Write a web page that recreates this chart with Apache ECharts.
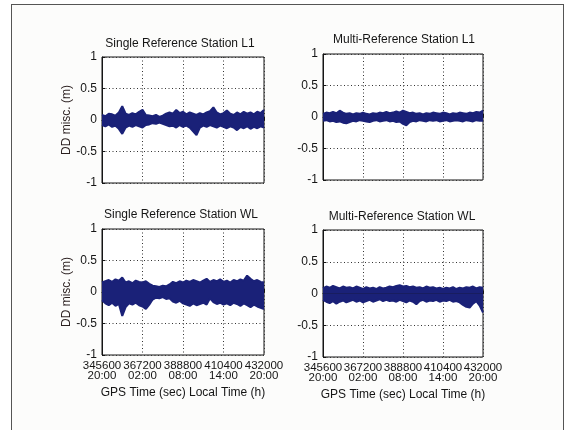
<!DOCTYPE html>
<html>
<head>
<meta charset="utf-8">
<script src="https://cdn.jsdelivr.net/npm/echarts@6/dist/echarts.min.js"></script>
<style>
  html, body { margin: 0; padding: 0; background: #fff; }
  #wrap { position: relative; width: 570px; height: 430px; overflow: hidden; background: #fff; }
  #frame {
    position: absolute; left: 11px; top: 4px; width: 551px; height: 440px;
    border: 1.5px solid #555; border-bottom: none; background: #fcfcfb;
  }
  #chart { position: absolute; left: 0; top: 0; width: 570px; height: 430px; }
</style>
</head>
<body>
<div id="wrap">
  <div id="frame"></div>
  <div id="chart"></div>
</div>
<script>
// sample epochs (GPS seconds of week)
const sampleTimes = [
  345600, 347400, 349200, 351000, 352800, 354600, 356400, 358200, 360000, 361800,
  363600, 365400, 367200, 369000, 370800, 372600, 374400, 376200, 378000, 379800,
  381600, 383400, 385200, 387000, 388800, 390600, 392400, 394200, 396000, 397800,
  399600, 401400, 403200, 405000, 406800, 408600, 410400, 412200, 414000, 415800,
  417600, 419400, 421200, 423000, 424800, 426600, 428400, 430200, 432000
]

const tickSecs = [345600, 367200, 388800, 410400, 432000]
const tickHours = ['20:00', '02:00', '08:00', '14:00', '20:00']

const panelTitles = [
  'Single Reference Station L1',
  'Multi-Reference Station L1',
  'Single Reference Station WL',
  'Multi-Reference Station WL',
]

// upper / lower envelope of the residual band (m)
const singleL1Upper = [
  0.08, 0.06, 0.1, 0.09, 0.07, 0.12, 0.22, 0.1, 0.08, 0.11,
  0.09, 0.13, 0.16, 0.08, 0.07, 0.06, 0.08, 0.05, 0.07, 0.1,
  0.12, 0.1, 0.16, 0.11, 0.13, 0.09, 0.12, 0.1, 0.08, 0.11,
  0.09, 0.12, 0.14, 0.2, 0.12, 0.09, 0.11, 0.15, 0.1, 0.08,
  0.12, 0.09, 0.13, 0.1, 0.12, 0.09, 0.13, 0.11, 0.16
]
const singleL1Lower = [
  -0.08, -0.1, -0.07, -0.11, -0.09, -0.14, -0.22, -0.12, -0.09, -0.11,
  -0.08, -0.1, -0.12, -0.08, -0.07, -0.05, -0.06, -0.04, -0.06, -0.08,
  -0.1, -0.09, -0.12, -0.08, -0.11, -0.09, -0.12, -0.18, -0.24, -0.12,
  -0.09, -0.11, -0.08, -0.1, -0.12, -0.09, -0.11, -0.13, -0.1, -0.12,
  -0.16, -0.11, -0.13, -0.1, -0.14, -0.11, -0.13, -0.1, -0.12
]
const multiL1Upper = [
  0.05, 0.07, 0.06, 0.08, 0.06, 0.1, 0.07, 0.05, 0.06, 0.04,
  0.06, 0.05, 0.07, 0.05, 0.04, 0.06, 0.05, 0.07, 0.06, 0.08,
  0.06, 0.07, 0.09, 0.07, 0.1, 0.08, 0.06, 0.07, 0.05, 0.06,
  0.04, 0.06, 0.05, 0.07, 0.06, 0.05, 0.07, 0.06, 0.04, 0.06,
  0.05, 0.07, 0.06, 0.05, 0.07, 0.06, 0.08, 0.07, 0.1
]
const multiL1Lower = [
  -0.06, -0.05, -0.07, -0.06, -0.08, -0.07, -0.09, -0.1, -0.08, -0.06,
  -0.07, -0.05, -0.06, -0.07, -0.08, -0.06, -0.05, -0.07, -0.06, -0.05,
  -0.07, -0.06, -0.08, -0.07, -0.11, -0.13, -0.08, -0.06, -0.07, -0.05,
  -0.06, -0.07, -0.05, -0.06, -0.05, -0.07, -0.06, -0.05, -0.07, -0.06,
  -0.05, -0.06, -0.07, -0.05, -0.06, -0.07, -0.05, -0.06, -0.06
]
const singleWLUpper = [
  0.15, 0.17, 0.19, 0.16, 0.2, 0.18, 0.23, 0.15, 0.17, 0.14,
  0.18, 0.16, 0.15, 0.17, 0.13, 0.1, 0.09, 0.08, 0.1, 0.09,
  0.12, 0.16, 0.14, 0.17, 0.15, 0.18, 0.16, 0.19, 0.17, 0.15,
  0.18, 0.21, 0.16, 0.19, 0.17, 0.2, 0.16, 0.18, 0.15, 0.19,
  0.17, 0.2, 0.18, 0.26, 0.21, 0.17, 0.19, 0.16, 0.15
]
const singleWLLower = [
  -0.13, -0.18, -0.21, -0.17, -0.22, -0.19, -0.38, -0.24, -0.18, -0.2,
  -0.17, -0.21, -0.23, -0.27, -0.2, -0.12, -0.09, -0.1, -0.08, -0.11,
  -0.1, -0.15, -0.17, -0.14, -0.18, -0.2, -0.22, -0.18, -0.21, -0.19,
  -0.17, -0.2, -0.1, -0.16, -0.19, -0.17, -0.2, -0.18, -0.21, -0.17,
  -0.19, -0.22, -0.18, -0.21, -0.24, -0.2, -0.23, -0.25, -0.27
]
const multiWLUpper = [
  0.08, 0.11, 0.09, 0.12, 0.1, 0.08, 0.11, 0.09, 0.1, 0.08,
  0.11, 0.09, 0.07, 0.1, 0.08, 0.09, 0.07, 0.1, 0.08, 0.09,
  0.11, 0.1, 0.12, 0.13, 0.11, 0.12, 0.1, 0.11, 0.09, 0.1,
  0.08, 0.11, 0.09, 0.1, 0.08, 0.09, 0.07, 0.09, 0.08, 0.1,
  0.07, 0.09, 0.08, 0.1, 0.09, 0.11, 0.08, 0.1, 0.09
]
const multiWLLower = [
  -0.1, -0.13, -0.15, -0.12, -0.16, -0.13, -0.11, -0.14, -0.12, -0.1,
  -0.13, -0.11, -0.14, -0.12, -0.1, -0.13, -0.11, -0.09, -0.12, -0.1,
  -0.12, -0.11, -0.13, -0.1, -0.12, -0.14, -0.11, -0.13, -0.17, -0.12,
  -0.1, -0.13, -0.11, -0.12, -0.1, -0.13, -0.11, -0.12, -0.1, -0.13,
  -0.12, -0.14, -0.18, -0.21, -0.22, -0.16, -0.12, -0.19, -0.3
]

const bands = [
  [singleL1Upper, singleL1Lower],
  [multiL1Upper, multiL1Lower],
  [singleWLUpper, singleWLLower],
  [multiWLUpper, multiWLLower],
]

const FONT = '"Liberation Sans", Arial, Helvetica, sans-serif'
const NAVY = '#1a2178'
const INK = '#151515'

const grids = [
  { left: 102, top: 57, width: 162, height: 126 },
  { left: 323, top: 54, width: 160, height: 126 },
  { left: 102, top: 229, width: 162, height: 126 },
  { left: 323, top: 230, width: 160, height: 127 },
]
const titlePos = [[180, 44], [404, 40], [181, 215], [402, 217]]

const xAxes = grids.map((g, i) => {
  const bottomRow = i >= 2
  return {
    type: 'value',
    gridIndex: i,
    min: 345600,
    max: 432000,
    interval: 21600,
    name: bottomRow ? 'GPS Time (sec) Local Time (h)' : '',
    nameLocation: 'middle',
    nameGap: 32,
    nameTextStyle: { color: INK, fontSize: 12, fontFamily: FONT },
    axisLine: { lineStyle: { color: INK, width: 1 } },
    axisTick: { show: true, inside: true, length: 3, lineStyle: { color: INK } },
    splitLine: { show: true, lineStyle: { color: '#333', type: [1, 2.5], width: 1 } },
    axisLabel: {
      show: bottomRow,
      color: INK,
      fontSize: 11.5,
      fontFamily: FONT,
      lineHeight: 10,
      margin: 6,
      formatter: (v) => {
        const k = tickSecs.indexOf(v)
        return k < 0 ? '' : `${tickSecs[k]}\n${tickHours[k]}`
      },
    },
  }
})

const yAxes = grids.map((g, i) => ({
  type: 'value',
  gridIndex: i,
  min: -1,
  max: 1,
  interval: 0.5,
  name: i % 2 === 0 ? 'DD misc. (m)' : '',
  nameLocation: 'middle',
  nameGap: 28,
  nameTextStyle: { color: '#2a1f1f', fontSize: 12, fontFamily: FONT },
  axisLine: { show: true, lineStyle: { color: INK, width: 1 } },
  axisTick: { show: true, inside: true, length: 3, lineStyle: { color: INK } },
  splitLine: { show: true, lineStyle: { color: '#333', type: [1, 2.5], width: 1 } },
  axisLabel: { color: INK, fontSize: 12, fontFamily: FONT, margin: 5 },
}))

const series = []
bands.forEach(([upper, lower], i) => {
  ;[upper, lower].forEach((arr) => {
    series.push({
      type: 'line',
      xAxisIndex: i,
      yAxisIndex: i,
      data: sampleTimes.map((t, k) => [t, arr[k]]),
      showSymbol: false,
      silent: true,
      lineStyle: { color: NAVY, width: 2 },
      areaStyle: { color: NAVY, opacity: 1, origin: 0 },
      z: 3,
    })
  })
})

const graphic = panelTitles.map((t, i) => ({
  type: 'text',
  x: titlePos[i][0],
  y: titlePos[i][1],
  style: {
    text: t,
    font: `12px ${FONT}`,
    fill: INK,
    align: 'center',
    verticalAlign: 'middle',
    textAlign: 'center',
    textVerticalAlign: 'middle',
  },
}))

const chart = echarts.init(document.getElementById('chart'))
chart.setOption({
  animation: false,
  backgroundColor: 'transparent',
  grid: grids.map(g => ({ ...g, show: true, borderColor: INK, borderWidth: 1, backgroundColor: '#fff' })),
  xAxis: xAxes,
  yAxis: yAxes,
  series,
  graphic,
})
</script>
</body>
</html>
